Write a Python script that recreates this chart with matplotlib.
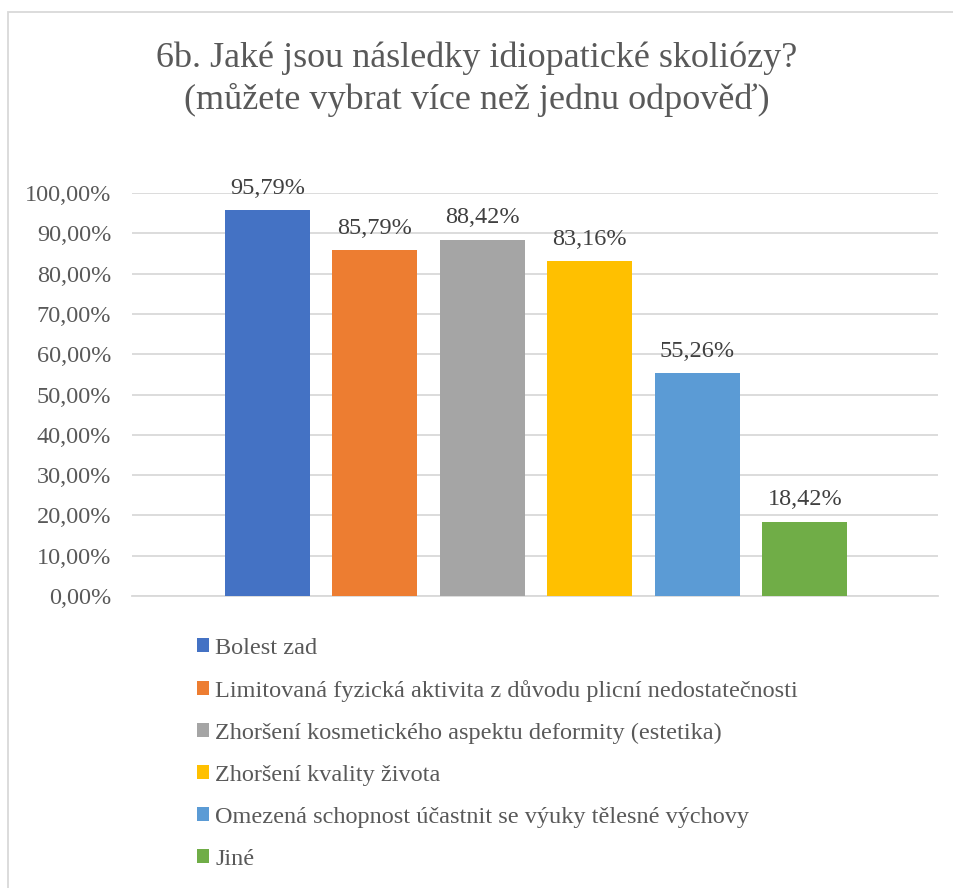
import matplotlib
matplotlib.use("Agg")
import matplotlib.pyplot as plt
from matplotlib.patches import Rectangle, Patch
from matplotlib.ticker import FuncFormatter

plt.rcParams['font.family'] = ['Liberation Serif', 'DejaVu Serif']

title = "6b. Jaké jsou následky idiopatické skoliózy?\n(můžete vybrat více než jednu odpověď)"
categories = [
    "Bolest zad",
    "Limitovaná fyzická aktivita z důvodu plicní nedostatečnosti",
    "Zhoršení kosmetického aspektu deformity (estetika)",
    "Zhoršení kvality života",
    "Omezená schopnost účastnit se výuky tělesné výchovy",
    "Jiné",
]
values = [95.79, 85.79, 88.42, 83.16, 55.26, 18.42]
colors = ["#4472C4", "#ED7D31", "#A5A5A5", "#FFC000", "#5B9BD5", "#70AD47"]
yticks = [0, 10, 20, 30, 40, 50, 60, 70, 80, 90, 100]

W, H = 954, 888
fig = plt.figure(figsize=(W / 100, H / 100), dpi=100)
fig.patches.append(Rectangle((8 / W, -0.1), 1.2, 1 - 12 / H + 0.1, transform=fig.transFigure,
                             fill=False, edgecolor="#D9D9D9", lw=1.3))

ax = fig.add_axes([132 / W, 1 - 596 / H, (938 - 132) / W, (596 - 193) / H])
x = list(range(len(values)))
bars = ax.bar(x, values, width=0.79, color=colors, zorder=3)
for xi, v in zip(x, values):
    ax.text(xi, v + 2.8, f"{v:.2f}%".replace(".", ","), ha="center", va="bottom",
            fontsize=17.5, color="#404040")

ax.set_xlim(-1.26, 6.24)
ax.set_ylim(0, 100)
ax.set_yticks(yticks)
ax.yaxis.set_major_formatter(FuncFormatter(lambda v, p: f"{v:.2f}%".replace(".", ",")))
ax.tick_params(axis="y", length=0, labelsize=17.5, labelcolor="#595959", pad=15)
ax.set_xticks([])
ax.grid(axis="y", color="#D9D9D9", lw=1.3, zorder=0)
for s in ["top", "right", "left"]:
    ax.spines[s].set_visible(False)
ax.spines["bottom"].set_color("#D9D9D9")
ax.spines["bottom"].set_linewidth(1.3)

fig.text(0.5, 1 - 79 / H, title, ha="center", va="center", fontsize=26,
         color="#595959", linespacing=1.3)

handles = [Patch(facecolor=c, edgecolor="none") for c in colors]
leg = fig.legend(handles, categories, loc="upper left",
                 bbox_to_anchor=(197 / W, 1 - 638 / H), frameon=False,
                 fontsize=17.5, handlelength=0.5, handleheight=0.5,
                 handletextpad=0.25, labelspacing=0.86, borderpad=0, borderaxespad=0)
for t in leg.get_texts():
    t.set_color("#595959")

fig.savefig("out.png", dpi=100)
